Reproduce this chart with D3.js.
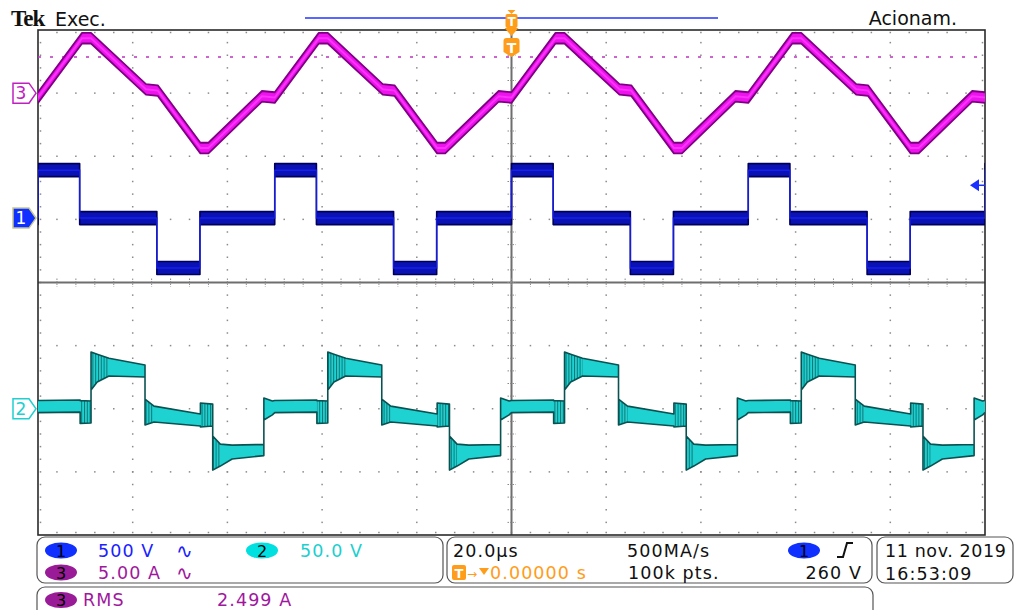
<!DOCTYPE html>
<html>
<head>
<meta charset="utf-8">
<script src="https://cdn.jsdelivr.net/npm/d3@7"></script>
<style>
  html, body { margin: 0; padding: 0; background: #fff; }
  svg { display: block; font-family: "DejaVu Sans", sans-serif; }
</style>
</head>
<body>
<svg id="scope" width="1018" height="610"></svg>
<script>
// ---- values ----
const timeDomain = [-100, 100];      // µs, 20 µs/div, trigger at centre
const period = 50;                   // µs (20 kHz)
const firstPeriodStart = -100;       // µs, CH1 goes positive here

// CH1 bridge voltage (V), 500 V/div
const ch1Phase = [0, 0, 8.8, 8.8, 25.1, 25.1, 34.2, 34.2];
const ch1Volts = [0, 380, 380, 0, 0, -395, -395, 0];

// CH3 current (A), 5 A/div
const ch3Phase = [0, 9.3, 11.2, 22.8, 25.3, 34.3, 36.0, 47.3];
const ch3Amps  = [-0.35, 4.35, 4.35, 0.3, 0.2, -4.35, -4.35, -0.25];
const ch3RefLevel = 2.87;            // dotted magenta line (A)

// CH2 voltage (V), 50 V/div, with ringing half-amplitude (V)
const ch2Phase = [0, 8.9, 8.9, 11.2, 11.2, 12.5, 15.0, 22.6, 22.6, 24.5, 34.3, 34.3, 36.9, 36.9, 38.5, 41.0, 47.7, 47.7, 49.5];
const ch2Volts = [1.7, 2.1, -2.6, -2.6, 29.9, 32.2, 33.0, 29.9, -2.6, -4.2, -8.9, -5.0, -5.0, -35.1, -36.7, -34.3, -32.7, -0.2, 0.6];
const ch2Ring  = [4.8, 4.8, 9.0, 8.7, 15.0, 11.0, 7.0, 4.8, 10.3, 6.3, 4.8, 9.5, 8.7, 13.5, 8.7, 5.5, 4.4, 8.7, 5.5];

// channel settings shown in the readout
const ch1Scale = 500, ch1Offset = 1.02;   // V/div, div
const ch2Scale = 50,  ch2Offset = -2;
const ch3Scale = 5,   ch3Offset = 3;
const triggerLevel = 260;                  // V on CH1

const readoutRow1 = ['500 V', '50.0 V'];
const readoutRow2 = ['5.00 A'];
const rmsText = ['RMS', '2.499 A'];
const timebase = ['20.0µs', '500MA/s', '260 V'];
const timebase2 = ['0.00000 s', '100k pts.'];
const dateText = ['11 nov. 2019', '16:53:09'];

// ---- layout ----
const svg = d3.select('#scope');
const plot = { left: 38, right: 985, top: 30, bottom: 535 };
const x = d3.scaleLinear().domain(timeDomain).range([plot.left, plot.right]);
const yDiv = d3.scaleLinear().domain([-4, 4]).range([plot.bottom, plot.top]);
const divX = (plot.right - plot.left) / 10;
const divY = (plot.bottom - plot.top) / 8;
const cx = x(0), cy = yDiv(0);

const colors = {
  ch1: '#1a22ff', ch1Dark: '#00005a', ch1Fill: '#0a12b4',
  ch2: '#1ed2d2', ch2Dark: '#0a5252', ch2Text: '#1ccfcf',
  ch3: '#ee12ee', ch3Dark: '#7e0082', ch3Text: '#a0189e', ch3Pill: '#9a1b98',
  orange: '#ff9c1a', grid: '#8a8a8a', axis: '#6e6e6e', box: '#555'
};

const defs = svg.append('defs');
defs.append('clipPath').attr('id', 'plotClip')
  .append('rect').attr('x', plot.left).attr('y', plot.top)
  .attr('width', plot.right - plot.left).attr('height', plot.bottom - plot.top);
const ring = defs.append('pattern').attr('id', 'ring')
  .attr('width', 2.8).attr('height', 10).attr('patternUnits', 'userSpaceOnUse');
ring.append('rect').attr('width', 1).attr('height', 10).attr('fill', colors.ch2Dark).attr('opacity', 0.75);

// ---- graticule ----
const grid = svg.append('g');
function dot(px, py) {
  grid.append('rect').attr('x', px - 0.75).attr('y', py - 0.75)
    .attr('width', 1.5).attr('height', 1.5).attr('fill', colors.grid);
}
for (let i = 1; i < 10; i++) {
  if (i === 5) continue;
  for (let k = 1; k < 40; k++) dot(plot.left + i * divX, plot.top + k * divY / 5);
}
for (let j = 1; j < 8; j++) {
  if (j === 4) continue;
  for (let k = 1; k < 50; k++) dot(plot.left + k * divX / 5, plot.top + j * divY);
}
// edge ticks
for (let k = 1; k < 50; k++) {
  const px = plot.left + k * divX / 5;
  dot(px, plot.top + 2.5); dot(px, plot.bottom - 2.5);
}
for (let k = 1; k < 40; k++) {
  const py = plot.top + k * divY / 5;
  dot(plot.left + 2.5, py); dot(plot.right - 2.5, py);
}
// centre cross with minor ticks
grid.append('line').attr('x1', cx).attr('x2', cx).attr('y1', plot.top).attr('y2', plot.bottom)
  .attr('stroke', colors.axis).attr('stroke-width', 2);
grid.append('line').attr('x1', plot.left).attr('x2', plot.right).attr('y1', cy).attr('y2', cy)
  .attr('stroke', colors.axis).attr('stroke-width', 2);
for (let k = 1; k < 50; k++) {
  const px = plot.left + k * divX / 5;
  grid.append('line').attr('x1', px).attr('x2', px).attr('y1', cy - 4).attr('y2', cy + 4)
    .attr('stroke', colors.grid).attr('stroke-width', 1).attr('stroke-dasharray', '1.5,1');
}
for (let k = 1; k < 40; k++) {
  const py = plot.top + k * divY / 5;
  grid.append('line').attr('x1', cx - 4).attr('x2', cx + 4).attr('y1', py).attr('y2', py)
    .attr('stroke', colors.grid).attr('stroke-width', 1).attr('stroke-dasharray', '1.5,1');
}

// frame
svg.append('rect').attr('x', plot.left).attr('y', plot.top)
  .attr('width', plot.right - plot.left).attr('height', plot.bottom - plot.top)
  .attr('fill', 'none').attr('stroke', '#2a2a2a').attr('stroke-width', 1.6);

// ---- traces ----
function tile(phase, vals, amp) {
  const pts = [];
  for (let k = -1; k <= 4; k++) {
    phase.forEach((p, i) => pts.push({ t: firstPeriodStart + k * period + p, v: vals[i], r: amp ? amp[i] : 0 }));
  }
  return pts.filter(d => d.t >= -112 && d.t <= 112);
}

const traces = svg.append('g').attr('clip-path', 'url(#plotClip)');

// ch3 reference dotted line
const ch3Y = v => yDiv(ch3Offset + v / ch3Scale);
traces.append('line').attr('x1', plot.left).attr('x2', plot.right)
  .attr('y1', ch3Y(ch3RefLevel)).attr('y2', ch3Y(ch3RefLevel))
  .attr('stroke', '#c030c0').attr('stroke-width', 1.5).attr('stroke-dasharray', '3,9');

function band(pts, yf, hw, fill, dark, sw) {
  const area = d3.area()
    .x(d => x(d.t))
    .y0(d => yf(d.v) - hw(d))
    .y1(d => yf(d.v) + hw(d));
  traces.append('path').datum(pts).attr('d', area)
    .attr('fill', fill).attr('stroke', dark).attr('stroke-width', sw).attr('stroke-linejoin', 'round');
  return area;
}

// CH3 current
const ch3Pts = tile(ch3Phase, ch3Amps);
band(ch3Pts, ch3Y, () => 5.3, colors.ch3, colors.ch3Dark, 1.8);
traces.append('path').datum(ch3Pts)
  .attr('d', d3.line().x(d => x(d.t)).y(d => ch3Y(d.v)))
  .attr('fill', 'none').attr('stroke', '#ff40ff').attr('stroke-width', 2).attr('opacity', 0.7);

// CH1 voltage
const ch1Y = v => yDiv(ch1Offset + v / ch1Scale);
const ch1Pts = tile(ch1Phase, ch1Volts);
band(ch1Pts, ch1Y, () => 6.5, colors.ch1Fill, colors.ch1Dark, 1.6);
traces.append('path').datum(ch1Pts)
  .attr('d', d3.line().x(d => x(d.t)).y(d => ch1Y(d.v)))
  .attr('fill', 'none').attr('stroke', colors.ch1).attr('stroke-width', 1.5).attr('opacity', 0.8);

// CH2 voltage with ringing envelope
const ch2Y = v => yDiv(ch2Offset + v / ch2Scale);
const ch2Pts = tile(ch2Phase, ch2Volts, ch2Ring);
const ringPx = d => d.r / ch2Scale * divY;
const ch2Area = band(ch2Pts, ch2Y, ringPx, colors.ch2, colors.ch2Dark, 1.6);
traces.append('path').datum(ch2Pts)
  .attr('d', ch2Area.defined(d => d.r > 6))
  .attr('fill', 'url(#ring)');

// ---- channel ground markers ----
function marker(label, yc, fill, stroke, textFill) {
  const g = svg.append('g');
  const pts = [[13, yc - 10], [29, yc - 10], [36, yc], [29, yc + 10], [13, yc + 10]];
  g.append('polygon').attr('points', pts.map(p => p.join(',')).join(' '))
    .attr('fill', fill).attr('stroke', stroke).attr('stroke-width', 1.5);
  g.append('text').attr('x', 21).attr('y', yc + 6).attr('text-anchor', 'middle')
    .attr('font-size', 17).attr('fill', textFill).text(label);
}
marker('3', ch3Y(0), '#fff', '#c020c0', '#c020c0');
marker('1', ch1Y(0), '#1030ff', '#c8c890', '#fff');
marker('2', ch2Y(0), '#fff', '#20d0d0', '#20d0d0');

// trigger level arrow on the right
const trigY = ch1Y(triggerLevel);
svg.append('polygon')
  .attr('points', `970,${trigY} 979,${trigY - 6} 979,${trigY + 6}`).attr('fill', '#1a30ff');
svg.append('line').attr('x1', 978).attr('x2', 985).attr('y1', trigY).attr('y2', trigY)
  .attr('stroke', '#1a30ff').attr('stroke-width', 1.5);

// ---- top bar ----
svg.append('text').attr('x', 11).attr('y', 26).attr('font-family', '"Liberation Serif", serif')
  .attr('font-weight', 'bold').attr('font-size', 23).attr('letter-spacing', -1).attr('fill', '#111').text('Tek');
svg.append('text').attr('x', 55).attr('y', 26).attr('font-size', 19).attr('fill', '#111').text('Exec.');
svg.append('text').attr('x', 957).attr('y', 25).attr('text-anchor', 'end')
  .attr('font-size', 19).attr('fill', '#111').text('Acionam.');
svg.append('line').attr('x1', 305).attr('x2', 718).attr('y1', 18).attr('y2', 18)
  .attr('stroke', '#2233ff').attr('stroke-width', 1.5);

// trigger position markers
const tg = svg.append('g').attr('fill', colors.orange);
tg.append('polygon').attr('points', `${cx - 4},10 ${cx + 4},10 ${cx},14`);
tg.append('rect').attr('x', cx - 6).attr('y', 14).attr('width', 12).attr('height', 14).attr('rx', 2);
tg.append('polygon').attr('points', `${cx - 7},28 ${cx + 7},28 ${cx},36`);
tg.append('text').attr('x', cx).attr('y', 26).attr('text-anchor', 'middle')
  .attr('font-size', 12).attr('font-weight', 'bold').attr('fill', '#fff').text('T');
tg.append('path')
  .attr('d', `M${cx - 8},41 Q${cx - 8},38 ${cx - 5},38 L${cx + 5},38 Q${cx + 8},38 ${cx + 8},41 L${cx + 8},52 L${cx},57 L${cx - 8},52 Z`);
tg.append('text').attr('x', cx).attr('y', 53).attr('text-anchor', 'middle')
  .attr('font-size', 14).attr('font-weight', 'bold').attr('fill', '#fff').text('T');

// ---- readout boxes ----
function box(x0, y0, w, h) {
  svg.append('rect').attr('x', x0).attr('y', y0).attr('width', w).attr('height', h)
    .attr('rx', 8).attr('fill', 'none').attr('stroke', colors.box).attr('stroke-width', 1.2);
}
box(37, 537, 406, 46);
box(447, 537, 425, 46);
box(877, 537, 136, 46);
box(37, 587, 836, 40);

function pill(xc, yc, fill, label) {
  svg.append('ellipse').attr('cx', xc).attr('cy', yc).attr('rx', 16).attr('ry', 8).attr('fill', fill);
  svg.append('text').attr('x', xc).attr('y', yc + 6).attr('text-anchor', 'middle')
    .attr('font-size', 16).attr('fill', '#000').text(label);
}
function label(x0, y0, txt, fill, anchor) {
  return svg.append('text').attr('x', x0).attr('y', y0).attr('text-anchor', anchor || 'start')
    .attr('font-size', 17.5).attr('letter-spacing', 1.1).attr('fill', fill).text(txt);
}

pill(61, 550.5, '#1030ff', '1');
label(98, 557, readoutRow1[0], colors.ch1);
label(176, 558, '∿', colors.ch1).attr('font-size', 20);
pill(262, 550.5, '#00e0e0', '2');
label(300, 557, readoutRow1[1], colors.ch2Text);
pill(61, 572.5, colors.ch3Pill, '3');
label(98, 579, readoutRow2[0], colors.ch3Text);
label(176, 580, '∿', colors.ch3Text).attr('font-size', 20);

pill(61, 600, colors.ch3Pill, '3');
label(83, 606, rmsText[0], colors.ch3Text);
label(217, 606, rmsText[1], colors.ch3Text);

label(453, 557, timebase[0], '#111');
label(627, 557, timebase[1], '#111');
pill(804, 550.5, '#1030ff', '1');
svg.append('path').attr('d', 'M837,557 L843,557 L847,543 L853,543')
  .attr('fill', 'none').attr('stroke', '#111').attr('stroke-width', 2);
label(862, 579, timebase[2], '#111', 'end');

svg.append('rect').attr('x', 452).attr('y', 565).attr('width', 14).attr('height', 15).attr('rx', 2).attr('fill', colors.orange);
svg.append('text').attr('x', 459).attr('y', 578).attr('text-anchor', 'middle')
  .attr('font-size', 13).attr('font-weight', 'bold').attr('fill', '#fff').text('T');
svg.append('text').attr('x', 467).attr('y', 578).attr('font-size', 12).attr('fill', colors.orange).text('→');
svg.append('polygon').attr('points', '479,568 489,568 484,575').attr('fill', colors.orange);
label(490, 579, timebase2[0], colors.orange);
label(628, 579, timebase2[1], '#111');

label(885, 557, dateText[0], '#111').attr('letter-spacing', 0.6);
label(885, 580, dateText[1], '#111');
</script>
</body>
</html>
